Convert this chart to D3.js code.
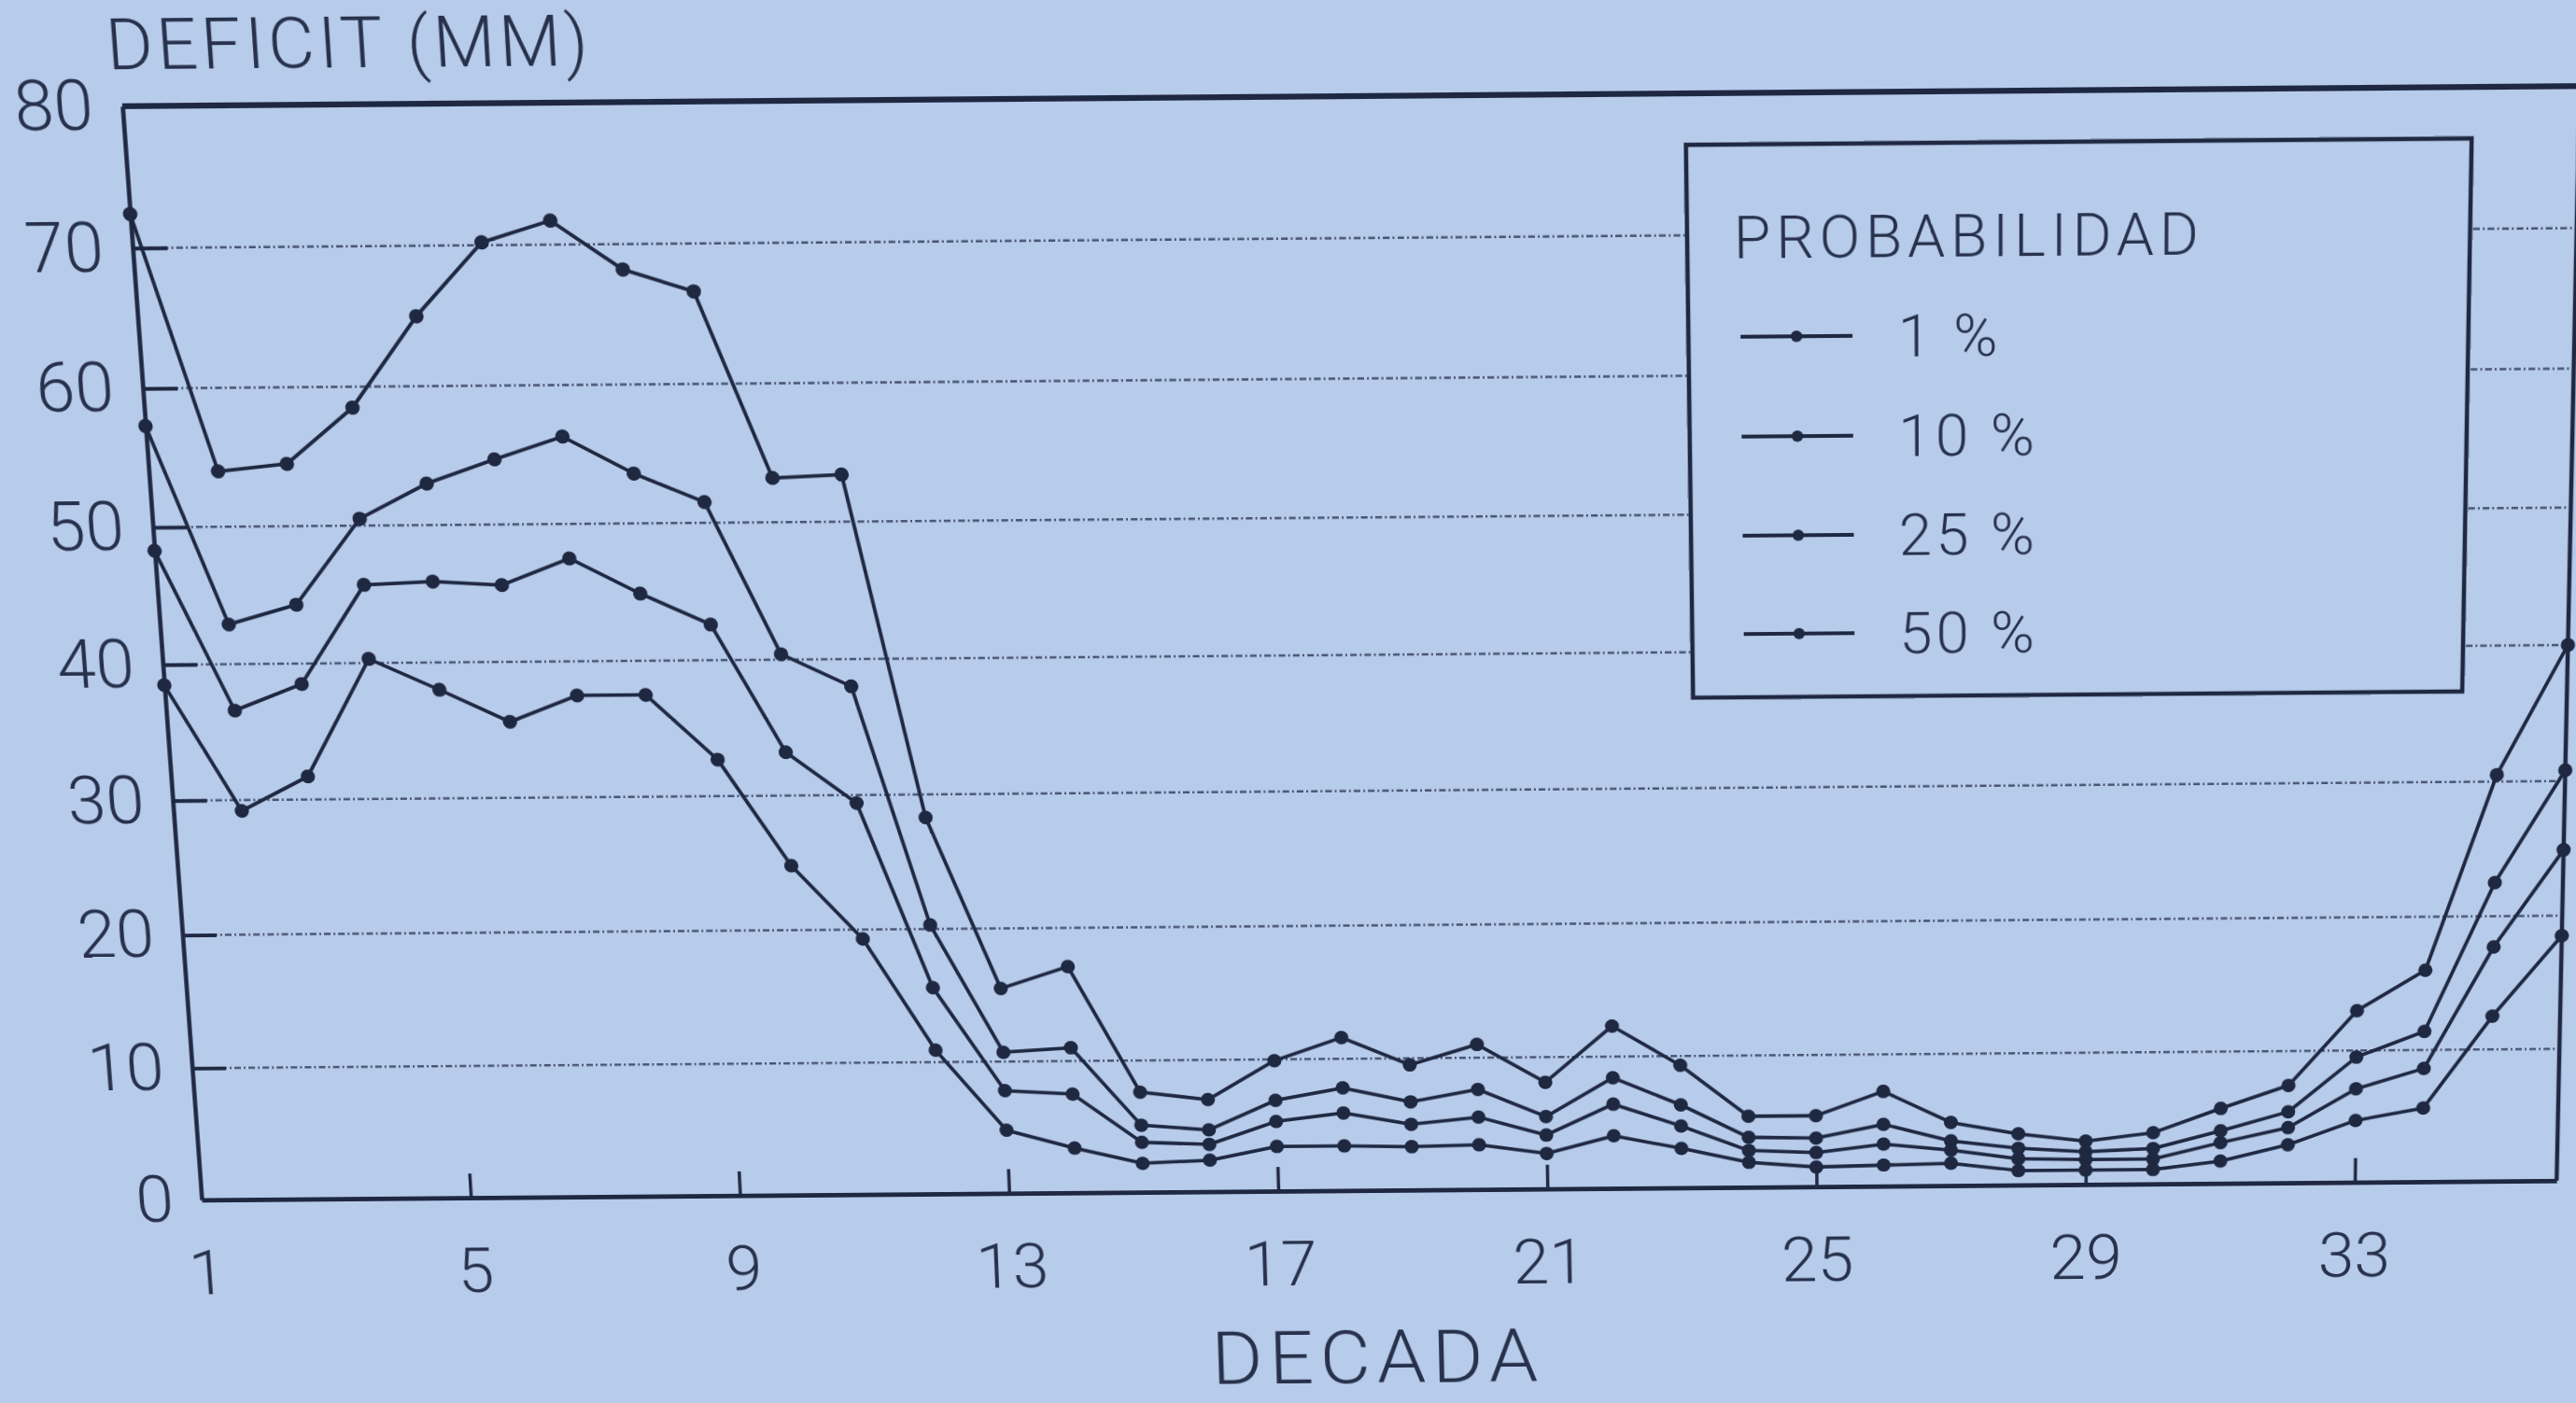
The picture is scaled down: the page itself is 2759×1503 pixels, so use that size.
<!DOCTYPE html>
<html>
<head>
<meta charset="utf-8">
<script src="https://cdn.jsdelivr.net/npm/d3@7"></script>
<style>
  html, body { margin: 0; padding: 0; width: 2759px; height: 1503px; overflow: hidden; background: #b7cbeb; }
  #sheet { position: absolute; left: 0; top: 0; transform-origin: 0 0; overflow: visible; }
  text { font-family: Roboto, "Liberation Sans", Arial, sans-serif; font-weight: 300; fill: #27314b; }
</style>
</head>
<body>
<svg id="sheet" width="2900" height="1650"></svg>
<script>
// Decades (x) and probability-of-exceedance series (deficit in mm)
const decades = d3.range(1, 37);
const xTickValues = [1, 5, 9, 13, 17, 21, 25, 29, 33];
const yTickValues = [0, 10, 20, 30, 40, 50, 60, 70, 80];
const seriesNames = ["1 %", "10 %", "25 %", "50 %"];

const prob1 = [72.4, 54.0, 54.5, 58.5, 65.0, 70.2, 71.7, 68.2, 66.6, 53.2, 53.4, 28.3,
               15.5, 17.1, 7.6, 7.0, 9.9, 11.6, 9.5, 11.0, 8.1, 12.3, 9.3, 5.4,
               5.4, 7.2, 4.8, 3.9, 3.3, 3.9, 5.7, 7.4, 13.0, 16.0, 30.5, 40.0];
const prob10 = [57.3, 42.9, 44.3, 50.5, 53.0, 54.7, 56.3, 53.6, 51.5, 40.4, 38.0, 20.3,
                10.7, 11.0, 5.1, 4.7, 6.9, 7.8, 6.7, 7.6, 5.5, 8.4, 6.3, 3.8,
                3.7, 4.7, 3.4, 2.8, 2.5, 2.7, 4.0, 5.4, 9.5, 11.4, 22.5, 30.8];
const prob25 = [48.3, 36.6, 38.5, 45.7, 45.9, 45.6, 47.5, 44.9, 42.6, 33.2, 29.4, 15.6,
                7.8, 7.5, 3.8, 3.6, 5.3, 5.9, 5.0, 5.5, 4.1, 6.4, 4.7, 2.8,
                2.6, 3.2, 2.7, 2.0, 1.9, 1.9, 3.1, 4.2, 7.1, 8.6, 17.7, 24.9];
const prob50 = [38.5, 29.2, 31.7, 40.3, 38.0, 35.6, 37.5, 37.5, 32.7, 24.8, 19.3, 10.9,
                4.8, 3.4, 2.2, 2.4, 3.4, 3.4, 3.3, 3.4, 2.7, 4.0, 3.0, 1.9,
                1.5, 1.6, 1.7, 1.1, 1.1, 1.1, 1.7, 2.9, 4.7, 5.6, 12.5, 18.5];

const seriesValues = [prob1, prob10, prob25, prob50];

// ---- layout of the flat sheet ----
const plot = { left: 220, right: 2742, top: 113, bottom: 1287 };
const ink = "#1f2841";
const paper = "#b7cbeb";

const svg = d3.select("#sheet");

const x = d3.scaleLinear().domain([1, 36]).range([plot.left, plot.right]);
const y = d3.scaleLinear().domain([0, 80]).range([plot.bottom, plot.top]);

// dotted horizontal grid
svg.append("g")
  .selectAll("line")
  .data(yTickValues.filter(v => v > 0 && v < 80))
  .join("line")
  .attr("x1", plot.left).attr("x2", plot.right)
  .attr("y1", d => y(d)).attr("y2", d => y(d))
  .attr("stroke", "#34405c")
  .attr("stroke-width", 2.5)
  .attr("stroke-dasharray", "7 3 2 3")
  .attr("opacity", 0.85);

// frame: top and right borders
svg.append("path")
  .attr("d", `M${plot.left},${y(80)}H${plot.right + 30}`)
  .attr("stroke", ink).attr("stroke-width", 6).attr("fill", "none");
svg.append("path")
  .attr("d", `M${plot.right},${y(80)}V${plot.bottom}`)
  .attr("stroke", ink).attr("stroke-width", 4.5).attr("fill", "none");

// y axis (ticks pointing inward)
const yAxis = svg.append("g")
  .attr("transform", `translate(${plot.left},0)`)
  .call(d3.axisLeft(y).tickValues(yTickValues).tickSizeInner(-36).tickSizeOuter(0).tickPadding(30));
yAxis.select(".domain").attr("stroke", ink).attr("stroke-width", 4.5);
yAxis.selectAll(".tick line").attr("stroke", ink).attr("stroke-width", 4);
yAxis.selectAll(".tick").filter(d => d === 0 || d === 80).select("line").remove();
yAxis.selectAll(".tick text")
  .attr("font-size", 73).attr("font-family", null).attr("fill", "#27314b");

// x axis (ticks pointing inward)
const xAxis = svg.append("g")
  .attr("transform", `translate(0,${plot.bottom})`)
  .call(d3.axisBottom(x).tickValues(xTickValues).tickSizeInner(-27).tickSizeOuter(0).tickPadding(56));
xAxis.select(".domain").attr("stroke", ink).attr("stroke-width", 5);
xAxis.selectAll(".tick line").attr("stroke", ink).attr("stroke-width", 3.5);
xAxis.selectAll(".tick").filter(d => d === 1).select("line").remove();
xAxis.selectAll(".tick text")
  .attr("font-size", 70).attr("font-family", null).attr("fill", "#27314b");

// axis titles
svg.append("text")
  .attr("x", plot.left - 12).attr("y", 75)
  .attr("font-size", 73).attr("letter-spacing", 4)
  .text("DEFICIT (MM)");
svg.append("text")
  .attr("x", (plot.left + plot.right) / 2 - 6).attr("y", 1504)
  .attr("text-anchor", "middle")
  .attr("font-size", 84).attr("letter-spacing", 7)
  .text("DECADA");

// series lines and markers
const line = d3.line().x((d, i) => x(decades[i])).y(d => y(d));
const seriesG = svg.append("g");
seriesValues.forEach(vals => {
  seriesG.append("path")
    .attr("d", line(vals))
    .attr("fill", "none").attr("stroke", ink)
    .attr("stroke-width", 3.8).attr("stroke-linejoin", "round");
  seriesG.append("g")
    .selectAll("circle")
    .data(vals)
    .join("circle")
    .attr("cx", (d, i) => x(decades[i]))
    .attr("cy", d => y(d))
    .attr("r", 7.5)
    .attr("fill", ink);
});

// legend box
const lg = { x: 1824, y: 166, w: 808, h: 583 };
const legend = svg.append("g").attr("transform", `translate(${lg.x},${lg.y})`);
legend.append("rect")
  .attr("width", lg.w).attr("height", lg.h)
  .attr("fill", paper).attr("stroke", ink).attr("stroke-width", 4.5);
legend.append("text")
  .attr("x", 48).attr("y", 118)
  .attr("font-size", 62).attr("letter-spacing", 5.5)
  .text("PROBABILIDAD");
const entryY = d3.scalePoint().domain(seriesNames).range([200, 515]);
seriesNames.forEach(name => {
  const cy = entryY(name);
  legend.append("line")
    .attr("x1", 54).attr("x2", 170).attr("y1", cy).attr("y2", cy)
    .attr("stroke", ink).attr("stroke-width", 4);
  legend.append("circle").attr("cx", 112).attr("cy", cy).attr("r", 6).attr("fill", ink);
  legend.append("text")
    .attr("x", 217).attr("y", cy + 22)
    .attr("font-size", 62).attr("letter-spacing", 4)
    .text(name);
});

// ---- project the flat sheet onto the photographed page ----
// Homography with a vertical-only vanishing term, fitted by least squares to the four corners.
function solveLinear(M, v) {
  const n = v.length;
  const A = M.map(r => r.slice()), b = v.slice();
  for (let c = 0; c < n; c++) {
    let p = c;
    for (let r = c + 1; r < n; r++) if (Math.abs(A[r][c]) > Math.abs(A[p][c])) p = r;
    [A[c], A[p]] = [A[p], A[c]]; [b[c], b[p]] = [b[p], b[c]];
    for (let r = 0; r < n; r++) {
      if (r === c) continue;
      const f = A[r][c] / A[c][c];
      for (let k = c; k < n; k++) A[r][k] -= f * A[c][k];
      b[r] -= f * b[c];
    }
  }
  return b.map((val, i) => val / A[i][i]);
}
function fitKeystone(src, dst) {
  // unknowns: h0 h1 h2 h3 h4 h5 h7  (h6 fixed at 0)
  const rows = [], rhs = [];
  for (let i = 0; i < src.length; i++) {
    const [sx, sy] = src[i], [dx, dy] = dst[i];
    rows.push([sx, sy, 1, 0, 0, 0, -sy * dx]); rhs.push(dx);
    rows.push([0, 0, 0, sx, sy, 1, -sy * dy]); rhs.push(dy);
  }
  const n = 7;
  const N = d3.range(n).map(i => d3.range(n).map(j => d3.sum(rows, r => r[i] * r[j])));
  const t = d3.range(n).map(i => d3.sum(rows, (r, k) => r[i] * rhs[k]));
  const p = solveLinear(N, t);
  return [p[0], p[1], p[2], p[3], p[4], p[5], 0, p[6]];
}
const flatCorners = [[plot.left, plot.top], [plot.right, plot.top], [plot.right, plot.bottom], [plot.left, plot.bottom]];
const pageCorners = [[131, 111], [2763, 95], [2738, 1262], [216, 1288]];
const h = fitKeystone(flatCorners, pageCorners);
document.getElementById("sheet").style.transform =
  `matrix3d(${h[0]},${h[3]},0,${h[6]},${h[1]},${h[4]},0,${h[7]},0,0,1,0,${h[2]},${h[5]},0,1)`;
</script>
</body>
</html>
